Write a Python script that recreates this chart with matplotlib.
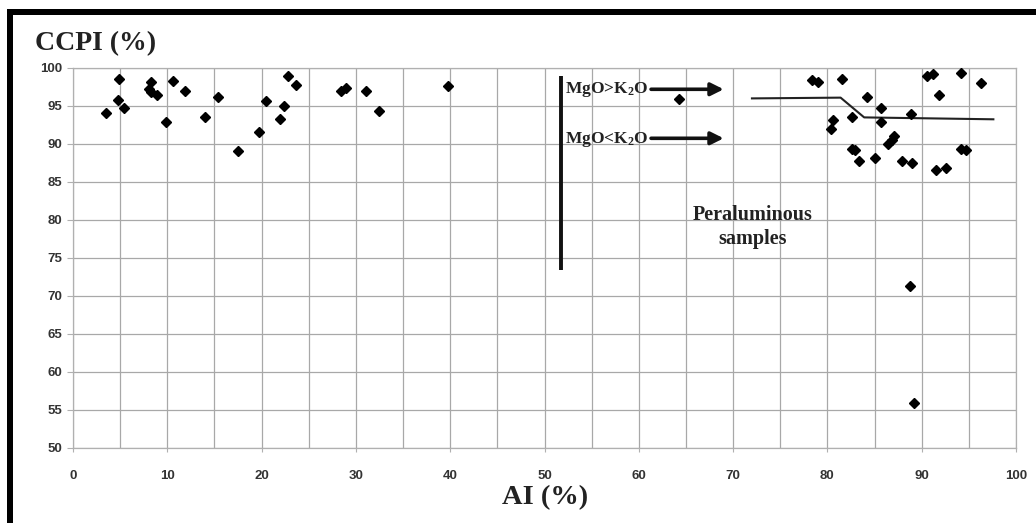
import matplotlib
matplotlib.use('Agg')
import matplotlib.pyplot as plt
from matplotlib.patches import Rectangle

# AI (%) vs CCPI (%)
ai = [3.5, 4.9, 4.8, 5.4, 8.3, 8.1, 8.3, 8.9, 9.9, 10.6, 11.9, 14.0, 15.4, 17.5,
      19.7, 20.5, 22.0, 22.4, 22.8, 23.7, 28.4, 29.0, 31.1, 32.5, 39.8, 64.3,
      78.4, 79.0, 81.6, 84.2, 85.7, 85.7, 82.6, 80.6, 80.4, 82.6, 82.9, 83.4,
      85.0, 86.4, 86.8, 87.1, 90.6, 91.2, 94.2, 96.3, 91.8, 88.9, 87.9, 89.0,
      91.5, 92.6, 94.2, 94.7, 88.8, 89.2]
ccpi = [94.1, 98.6, 95.8, 94.8, 98.2, 97.3, 96.8, 96.4, 92.9, 98.3, 97.0, 93.5, 96.2, 89.1,
        91.6, 95.6, 93.3, 95.0, 99.0, 97.8, 97.0, 97.4, 97.0, 94.3, 97.6, 95.9,
        98.4, 98.1, 98.5, 96.2, 94.8, 92.9, 93.5, 93.1, 92.0, 89.4, 89.2, 87.8,
        88.2, 90.0, 90.5, 91.0, 99.0, 99.2, 99.3, 98.0, 96.5, 94.0, 87.8, 87.5,
        86.6, 86.8, 89.4, 89.2, 71.3, 55.9]

# separation line MgO>K2O / MgO<K2O
line_x = [72.0, 81.4, 83.9, 97.6]
line_y = [96.0, 96.1, 93.5, 93.25]

serif = ['Liberation Serif', 'DejaVu Serif']
plt.rcParams['mathtext.fontset'] = 'custom'
plt.rcParams['mathtext.rm'] = 'Liberation Serif:bold'
plt.rcParams['mathtext.it'] = 'Liberation Serif:bold'
plt.rcParams['mathtext.bf'] = 'Liberation Serif:bold'

fig = plt.figure(figsize=(10.36, 5.23), dpi=100)
ax = fig.add_axes([73/1036, 1-448/523, 943/1036, 380/523])

ax.plot(ai, ccpi, 'D', color='black', ms=5, zorder=3)
ax.plot(line_x, line_y, color='#222222', lw=1.5, zorder=2)

ax.set_xlim(0, 100)
ax.set_ylim(50, 100)
ax.set_xticks(range(0, 101, 10))
ax.set_xticks(range(5, 100, 10), minor=True)
ax.set_yticks(range(50, 101, 5))
ax.grid(True, which='both', color='#a8a8a8', lw=0.9)
ax.set_axisbelow(True)
for s in ax.spines.values():
    s.set_color('#b0b0b0')
    s.set_linewidth(0.9)
ax.tick_params(axis='x', which='major', length=3, pad=13, color='#b0b0b0')
ax.tick_params(axis='x', which='minor', length=0)
ax.tick_params(axis='y', length=4, pad=3.5, color='#b0b0b0')
for lab in ax.get_xticklabels() + ax.get_yticklabels():
    lab.set_family('Liberation Sans')
    lab.set_fontweight('bold')
    lab.set_fontsize(9.5)
    lab.set_color('#333333')

# vertical divider and arrows
ax.plot([51.8, 51.8], [98.9, 73.4], color='#111111', lw=2.8, solid_capstyle='butt')
ax.text(52.2, 97.2, 'MgO>K$_2$O', family=serif, fontweight='bold', fontsize=12.5,
        color='#222222', va='center', ha='left')
ax.text(52.2, 90.6, 'MgO<K$_2$O', family=serif, fontweight='bold', fontsize=12.5,
        color='#222222', va='center', ha='left')
for yy in [97.2, 90.75]:
    ax.annotate('', xy=(69.0, yy), xytext=(61.3, yy),
                arrowprops=dict(arrowstyle='-|>', lw=2.6, color='#111111',
                                mutation_scale=19, shrinkA=0, shrinkB=0))

ax.text(72.1, 79.1, 'Peraluminous\nsamples', family=serif, fontweight='bold',
        fontsize=14.5, color='#222222', ha='center', va='center', linespacing=1.25)

fig.text(35/1036, 1-44/523, 'CCPI (%)', family=serif, fontweight='bold',
         fontsize=20, color='#222222', ha='left', va='center')
fig.text(545/1036, 1-498/523, 'AI (%)', family=serif, fontweight='bold',
         fontsize=20.5, color='#222222', ha='center', va='center')

# black frame (top and left)
fig.add_artist(Rectangle((7/1036, 1-15/523), 1, 6/523, transform=fig.transFigure,
                         color='black', lw=0))
fig.add_artist(Rectangle((7/1036, 0), 6/1036, 1-9/523, transform=fig.transFigure,
                         color='black', lw=0))

fig.savefig('out.png', dpi=100)
